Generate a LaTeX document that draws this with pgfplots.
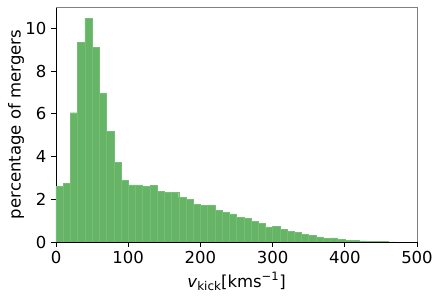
\documentclass[border=0pt]{standalone}
\usepackage{fontspec}
\setmainfont{DejaVu Sans}
\usepackage{pgfplots}
\pgfplotsset{compat=1.18}
\definecolor{bargreen}{RGB}{102,180,102}
\definecolor{baredge}{RGB}{118,190,118}
\begin{document}
\fontsize{16.5}{19}\selectfont
\begin{tikzpicture}
\begin{axis}[name=ax,
  scale only axis, width=361pt, height=235pt,
  xmin=0, xmax=500, ymin=0, ymax=11,
  xtick={0,100,200,300,400,500},
  ytick={0,2,4,6,8,10},
  axis x line*=bottom, axis y line*=left,
  axis line style={black, line width=0.8pt, -},
  tick style={black, line width=0.8pt},
  tick align=outside, major tick length=5pt,
  /pgf/number format/assume math mode=true,
  ticklabel style={font=\fontsize{16.5}{19}\selectfont},
  xticklabel style={yshift=1pt},
  yticklabel style={xshift=1pt},
  xlabel={\textit{v}\raisebox{-0.35ex}{\fontsize{12}{13}\selectfont kick}[kms\textsuperscript{−1}]},
  ylabel={percentage of mergers},
  label style={font=\fontsize{16.5}{19}\selectfont},
  xlabel style={yshift=3pt},
  ylabel style={yshift=-10pt},
]
\addplot[ybar interval, fill=bargreen, draw=baredge, line width=0.4pt] coordinates {
(0,2.59) (10,2.73) (20,6.05) (30,9.34) (40,10.47) (50,9.11) (60,6.98) (70,5.19) (80,3.73) (90,2.90)
(100,2.67) (110,2.67) (120,2.59) (130,2.64) (140,2.38) (150,2.31) (160,2.34) (170,2.09) (180,1.99) (190,1.76)
(200,1.73) (210,1.74) (220,1.47) (230,1.38) (240,1.32) (250,1.15) (260,1.11) (270,0.97) (280,0.86) (290,0.71)
(300,0.72) (310,0.58) (320,0.51) (330,0.45) (340,0.37) (350,0.30) (360,0.24) (370,0.17) (380,0.19) (390,0.12)
(400,0.08) (410,0.07) (420,0.05) (430,0.04) (440,0.03) (450,0.02) (460,0.01) (470,0)
};
\end{axis}
\draw[gray, line width=0.8pt] (ax.south east) -- (ax.north east) -- (ax.north west);
\path (ax.south west) ++(-56pt,-54pt) coordinate (bbA);
\path (ax.north east) ++(23pt,7pt) coordinate (bbB);
\pgfresetboundingbox
\path (bbA) rectangle (bbB);
\end{tikzpicture}
\end{document}
